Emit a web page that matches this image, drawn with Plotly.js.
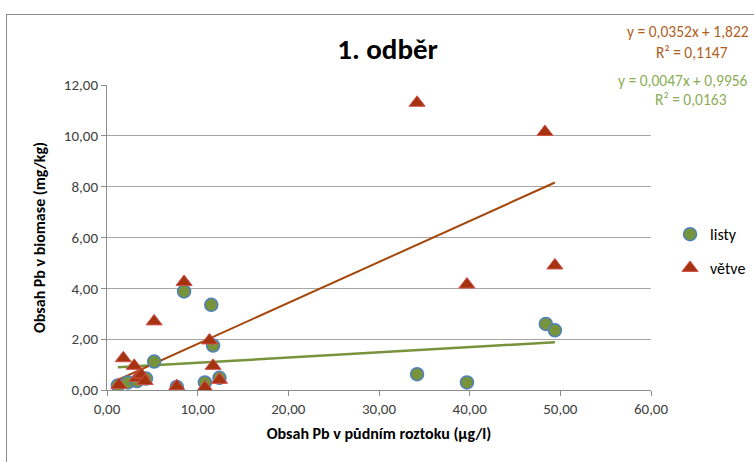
<!DOCTYPE html>
<html><head><meta charset="utf-8">
<script src="https://cdn.plot.ly/plotly-3.0.1.min.js"></script>
<style>
body{margin:0;padding:0;background:#fff;overflow:hidden;}
#frame{position:absolute;left:6px;top:14px;width:800px;height:500px;border:1px solid #8c8c8c;box-sizing:border-box;}
#chart{position:absolute;left:0;top:0;width:754px;height:462px;}
</style></head>
<body><div id="frame"></div><div id="chart"></div>
<script>
const listyX = [1.2, 2.3, 3.3, 4.3, 5.2, 7.7, 8.5, 10.8, 11.5, 11.7, 12.4, 34.2, 39.7, 48.4, 49.4];
const listyY = [0.18, 0.30, 0.35, 0.45, 1.12, 0.12, 3.88, 0.30, 3.35, 1.75, 0.48, 0.62, 0.30, 2.60, 2.35];
const vetveX = [1.3, 1.8, 3.0, 3.3, 3.8, 4.2, 5.2, 7.7, 8.5, 10.8, 11.3, 11.7, 12.4, 34.2, 39.7, 48.3, 49.4];
const vetveY = [0.20, 1.25, 0.95, 0.47, 0.60, 0.35, 2.70, 0.15, 4.25, 0.10, 1.95, 0.95, 0.40, 11.30, 4.15, 10.15, 4.90];
const seriesNames = ["listy", "větve"];
const eqVetve = ["y = 0,0352x + 1,822", "R² = 0,1147"];
const eqListy = ["y = 0,0047x + 0,9956", "R² = 0,0163"];
const xTicks = [0, 10, 20, 30, 40, 50, 60];
const yTicks = [0, 2, 4, 6, 8, 10, 12];

function fit(xs, ys) {
  const n = xs.length;
  const mx = xs.reduce((a, b) => a + b, 0) / n;
  const my = ys.reduce((a, b) => a + b, 0) / n;
  let sxy = 0, sxx = 0;
  for (let i = 0; i < n; i++) { sxy += (xs[i] - mx) * (ys[i] - my); sxx += (xs[i] - mx) ** 2; }
  const b = sxy / sxx, a = my - b * mx;
  const x0 = Math.min(...xs), x1 = Math.max(...xs);
  return {x: [x0, x1], y: [a + b * x0, a + b * x1]};
}
const fl = fit(listyX, listyY), fv = fit(vetveX, vetveY);
const fmt = v => v.toFixed(2).replace('.', ',');
const font = "Carlito, Lato, sans-serif";

const traces = [
  {x: fl.x, y: fl.y, mode: 'lines', line: {color: '#77933C', width: 2.5}, showlegend: false, hoverinfo: 'skip'},
  {x: fv.x, y: fv.y, mode: 'lines', line: {color: '#A5460A', width: 2}, showlegend: false, hoverinfo: 'skip'},
  {x: listyX, y: listyY, mode: 'markers', name: seriesNames[0], legendgroup: 'a',
   marker: {symbol: 'circle', size: 13, color: '#77933C', line: {color: '#4F81BD', width: 1.5}}},
  {x: vetveX, y: vetveY, mode: 'markers', name: seriesNames[1], legendgroup: 'b',
   marker: {symbol: 'triangle-up', size: 14, color: '#A5330F', line: {color: '#D0504D', width: 1}}}
];

const layout = {
  width: 754, height: 462,
  margin: {l: 107, r: 103, t: 85, b: 72, autoexpand: false},
  paper_bgcolor: 'rgba(0,0,0,0)', plot_bgcolor: 'rgba(0,0,0,0)',
  font: {family: font, color: '#404040', size: 15},
  title: {text: '<b>1. odběr</b>', font: {size: 29, color: '#000', family: font}, x: 0.514, xanchor: 'center', y: 0.895, yanchor: 'middle'},
  xaxis: {range: [0, 60], tickvals: xTicks, ticktext: xTicks.map(fmt), showgrid: false, zeroline: false,
          showline: true, linecolor: '#8c8c8c', ticks: 'outside', ticklen: 5, tickcolor: '#8c8c8c',
          tickfont: {size: 15, color: '#404040'},
          title: {text: '<b>Obsah Pb v půdním roztoku (μg/l)</b>', font: {size: 16, color: '#000'}, standoff: 10}},
  yaxis: {range: [0, 12], tickvals: yTicks, ticktext: yTicks.map(fmt), showgrid: true, gridcolor: '#a6a6a6', gridwidth: 1,
          zeroline: false, showline: true, linecolor: '#8c8c8c', ticks: 'outside', ticklen: 5, tickcolor: '#8c8c8c',
          tickfont: {size: 15, color: '#404040'},
          title: {text: '<b>Obsah Pb v biomase (mg/kg)</b>', font: {size: 16, color: '#000'}, standoff: 14}},
  legend: {x: 1.035, y: 0.455, xanchor: 'left', yanchor: 'middle', font: {size: 16, color: '#000'},
           traceorder: 'grouped', tracegroupgap: 10, itemwidth: 30, bgcolor: 'rgba(0,0,0,0)'},
  annotations: [
    {xref: 'paper', yref: 'paper', x: 0.952, y: 1.174, xanchor: 'left', yanchor: 'middle', showarrow: false,
     text: eqVetve[0], font: {size: 15.5, color: '#B0601E'}},
    {xref: 'paper', yref: 'paper', x: 1.006, y: 1.105, xanchor: 'left', yanchor: 'middle', showarrow: false,
     text: eqVetve[1], font: {size: 15.5, color: '#B0601E'}},
    {xref: 'paper', yref: 'paper', x: 0.935, y: 1.016, xanchor: 'left', yanchor: 'middle', showarrow: false,
     text: eqListy[0], font: {size: 15.5, color: '#8BAD58'}},
    {xref: 'paper', yref: 'paper', x: 1.004, y: 0.954, xanchor: 'left', yanchor: 'middle', showarrow: false,
     text: eqListy[1], font: {size: 15.5, color: '#8BAD58'}}
  ]
};
Plotly.newPlot('chart', traces, layout, {displayModeBar: false, staticPlot: true});
</script></body></html>
